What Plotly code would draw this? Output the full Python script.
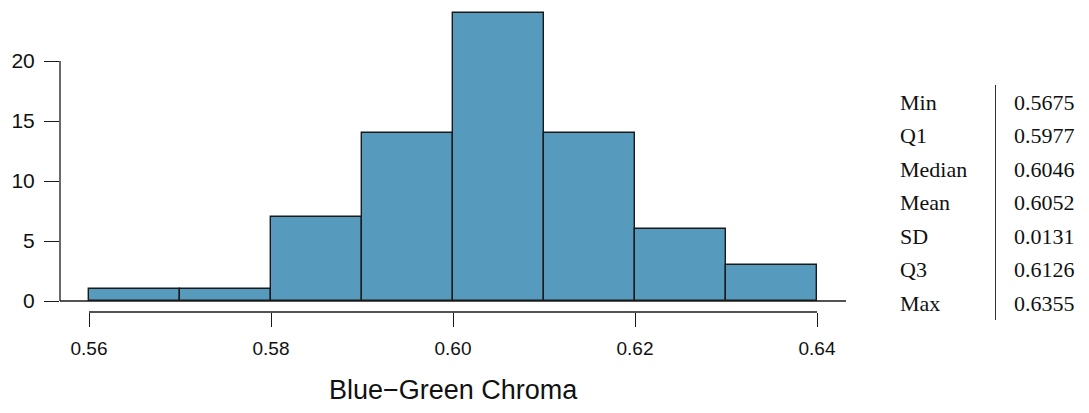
import plotly.graph_objects as go

# Data
bin_edges = [0.56, 0.57, 0.58, 0.59, 0.60, 0.61, 0.62, 0.63, 0.64]
counts = [1, 1, 7, 14, 24, 14, 6, 3]
x_ticks = [0.56, 0.58, 0.60, 0.62, 0.64]
x_tick_labels = ["0.56", "0.58", "0.60", "0.62", "0.64"]
y_ticks = [0, 5, 10, 15, 20]
stat_names = ["Min", "Q1", "Median", "Mean", "SD", "Q3", "Max"]
stat_values = ["0.5675", "0.5977", "0.6046", "0.6052", "0.0131", "0.6126", "0.6355"]
x_title = "Blue\u2212Green Chroma"

centers = [(bin_edges[i] + bin_edges[i + 1]) / 2 for i in range(len(counts))]
widths = [bin_edges[i + 1] - bin_edges[i] for i in range(len(counts))]

OFF = 8  # page body margin
W, H = 1089 - OFF, 413 - OFF
ml, mt = 60 - OFF, 10 - OFF
plot_right, plot_bottom = 846 - OFF, 312 - OFF
mr, mb = W - plot_right, H - plot_bottom
plot_w = plot_right - ml
plot_h = plot_bottom - mt

fig = go.Figure()
fig.add_trace(go.Bar(
    x=centers, y=counts, width=widths,
    marker=dict(color="rgb(86,155,189)", line=dict(color="#1a1a1a", width=1.4)),
    hoverinfo="x+y", showlegend=False,
))

sans = "Liberation Sans, Arial, Helvetica, sans-serif"
serif = "Liberation Serif, Times New Roman, serif"

fig.update_layout(
    width=W, height=H,
    margin=dict(l=ml, r=mr, t=mt, b=mb, pad=0),
    paper_bgcolor="white", plot_bgcolor="white",
    bargap=0,
    xaxis=dict(
        range=[0.556813, 0.643187],
        tickvals=x_ticks, ticktext=x_tick_labels,
        ticks="outside", ticklen=14, tickwidth=1.2, tickcolor="#1a1a1a",
        tickfont=dict(family=sans, size=19, color="#111"),
        ticklabelstandoff=5,
        showgrid=False, zeroline=False, showline=False,
    ),
    yaxis=dict(
        range=[-0.9167, 24.25],
        tickvals=y_ticks,
        ticks="outside", ticklen=15, tickwidth=1.2, tickcolor="#1a1a1a",
        tickfont=dict(family=sans, size=21, color="#111"),
        ticklabelstandoff=5,
        showgrid=False, zeroline=False, showline=False,
    ),
)

# axis lines (R style)
fig.add_shape(type="line", xref="paper", yref="y", x0=0, x1=0, y0=0, y1=20,
              line=dict(color="#1a1a1a", width=1.3))
fig.add_shape(type="line", xref="paper", yref="y", x0=0, x1=1, y0=0, y1=0,
              line=dict(color="#1a1a1a", width=1.3), layer="below")
fig.add_shape(type="line", xref="x", yref="paper", x0=x_ticks[0], x1=x_ticks[-1], y0=0, y1=0,
              line=dict(color="#1a1a1a", width=1.3))


def px_x(X):
    return (X - OFF - ml) / plot_w


def px_y(Y):
    return (plot_bottom - (Y - OFF)) / plot_h


# x title
fig.add_annotation(text=x_title, xref="paper", yref="paper",
                   x=0.5, y=px_y(390), xanchor="center", yanchor="middle",
                   showarrow=False, font=dict(family=sans, size=27, color="#111"))

# stats table
for i, (n, v) in enumerate(zip(stat_names, stat_values)):
    Y = 102 + 33.5 * i
    fig.add_annotation(text=n, xref="paper", yref="paper", x=px_x(898), y=px_y(Y),
                       xanchor="left", yanchor="middle", showarrow=False,
                       font=dict(family=serif, size=22, color="#111"))
    fig.add_annotation(text=v, xref="paper", yref="paper", x=px_x(1012), y=px_y(Y),
                       xanchor="left", yanchor="middle", showarrow=False,
                       font=dict(family=serif, size=22, color="#111"))
fig.add_shape(type="line", xref="paper", yref="paper", x0=px_x(995.5), x1=px_x(995.5),
              y0=px_y(85), y1=px_y(320), line=dict(color="#333", width=1))

fig.write_html("out.html")
